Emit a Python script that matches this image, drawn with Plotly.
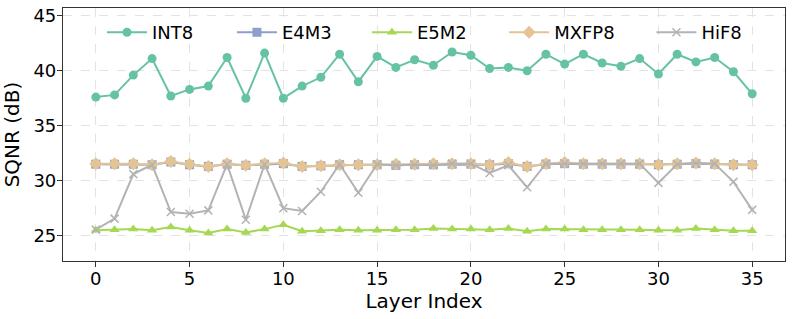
import plotly.graph_objects as go

layers = list(range(36))
int8 = [37.6, 37.8, 39.6, 41.1, 37.7, 38.3, 38.6, 41.2, 37.5, 41.6, 37.5, 38.6,
        39.4, 41.5, 39.0, 41.3, 40.3, 41.0, 40.5, 41.7, 41.4, 40.2, 40.3, 40.0,
        41.5, 40.6, 41.5, 40.7, 40.4, 41.1, 39.7, 41.5, 40.8, 41.2, 39.9, 37.9]
mxfp8 = [31.55, 31.55, 31.55, 31.45, 31.75, 31.5, 31.3, 31.55, 31.4, 31.55, 31.6, 31.3,
         31.35, 31.45, 31.45, 31.45, 31.5, 31.5, 31.55, 31.55, 31.55, 31.45, 31.65, 31.3,
         31.55, 31.65, 31.55, 31.55, 31.55, 31.55, 31.45, 31.55, 31.6, 31.55, 31.45, 31.45]
e4m3 = [31.5, 31.5, 31.5, 31.45, 31.7, 31.45, 31.3, 31.5, 31.4, 31.5, 31.55, 31.3,
        31.35, 31.45, 31.45, 31.45, 31.4, 31.45, 31.45, 31.5, 31.5, 31.45, 31.55, 31.3,
        31.5, 31.55, 31.5, 31.5, 31.5, 31.5, 31.45, 31.5, 31.55, 31.5, 31.45, 31.45]
e5m2 = [25.5, 25.55, 25.6, 25.5, 25.8, 25.5, 25.25, 25.6, 25.3, 25.6, 26.0, 25.4,
        25.45, 25.55, 25.5, 25.5, 25.55, 25.55, 25.65, 25.6, 25.6, 25.55, 25.65, 25.4,
        25.6, 25.6, 25.55, 25.55, 25.55, 25.55, 25.5, 25.5, 25.65, 25.55, 25.45, 25.45]
hif8 = [25.55, 26.55, 30.6, 31.45, 27.15, 27.0, 27.3, 31.5, 26.45, 31.5, 27.5, 27.25,
        29.0, 31.5, 28.9, 31.5, 31.4, 31.45, 31.4, 31.55, 31.55, 30.7, 31.4, 29.4,
        31.55, 31.55, 31.55, 31.55, 31.55, 31.55, 29.8, 31.5, 31.6, 31.55, 29.9, 27.35]

series = [
    ("INT8", int8, "#66c2a5", "circle"),
    ("E4M3", e4m3, "#8da0cb", "square"),
    ("E5M2", e5m2, "#a6d854", "triangle-up"),
    ("MXFP8", mxfp8, "#e5c494", "diamond"),
    ("HiF8", hif8, "#b3b3b3", "x-thin"),
]
legend_x = [0.054, 0.234, 0.421, 0.611, 0.815]

fig = go.Figure()
for i, (name, vals, color, sym) in enumerate(series):
    marker = dict(symbol=sym, size=9, color=color)
    if sym == "x-thin":
        marker = dict(symbol=sym, size=8, color=color, line=dict(color=color, width=1.5))
    if sym == "diamond":
        marker["size"] = 10
    lg = "legend" if i == 0 else f"legend{i+1}"
    fig.add_trace(go.Scatter(x=layers, y=vals, mode="lines+markers", name=name,
                             legend=lg,
                             line=dict(color=color, width=2), marker=marker))

font = "DejaVu Sans"
layout_legends = {}
for i, lx in enumerate(legend_x):
    key = "legend" if i == 0 else f"legend{i+1}"
    layout_legends[key] = dict(orientation="h", x=lx, xanchor="left", y=0.976, yanchor="top",
                               font=dict(size=18), bgcolor="rgba(255,255,255,0)",
                               itemwidth=40)

fig.update_layout(
    width=793, height=319,
    margin=dict(l=63, r=8, t=8, b=58, autoexpand=False),
    plot_bgcolor="white", paper_bgcolor="white",
    font=dict(family=font, size=18, color="black"),
    showlegend=True,
    **layout_legends,
)
axis_common = dict(showline=True, linecolor="#333333", linewidth=1.2, mirror=True,
                   ticks="outside", ticklen=5, tickcolor="#333333",
                   showgrid=True, gridcolor="#e3e3e3", griddash="dash", gridwidth=1,
                   zeroline=False, tickfont=dict(size=18), automargin=False)
fig.update_xaxes(range=[-1.75, 36.75], tickvals=[0, 5, 10, 15, 20, 25, 30, 35],
                 ticklabelstandoff=-4,
                 title=dict(text="Layer Index", font=dict(size=20), standoff=0), **axis_common)
fig.update_yaxes(range=[22.7, 45.7], tickvals=[25, 30, 35, 40, 45],
                 ticklabelstandoff=-3,
                 title=dict(text="SQNR (dB)", font=dict(size=20), standoff=8), **axis_common)

fig.write_html("out.html", config={"displayModeBar": False},
               post_script="document.body.style.margin='0';")
